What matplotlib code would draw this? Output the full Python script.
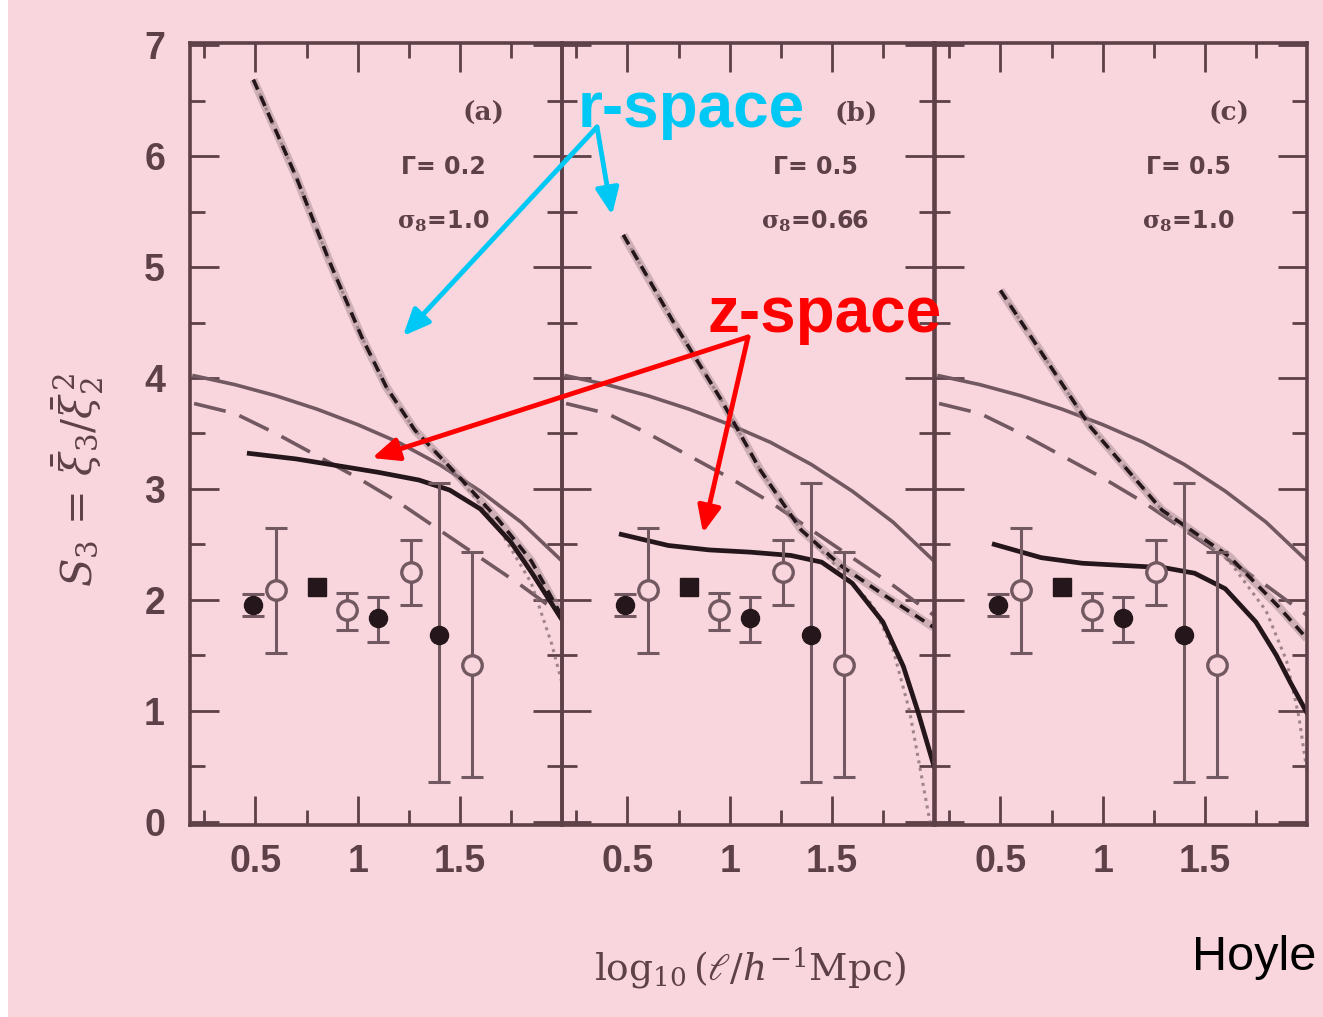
# S3 skewness vs scale -- three panels (a), (b), (c) with r-space / z-space notes
import numpy as np
import matplotlib.pyplot as plt
from matplotlib import font_manager
from matplotlib.patches import Rectangle

names = {f.name for f in font_manager.fontManager.ttflist}
narrow = 'Liberation Sans Narrow' if 'Liberation Sans Narrow' in names else 'Liberation Sans'
plt.rcParams['mathtext.fontset'] = 'dejavuserif'

# --- data ---
panel_tags = ['(a)', '(b)', '(c)']
gamma_txt = ['Γ= 0.2', 'Γ= 0.5', 'Γ= 0.5']
sigma_txt = ['1.0', '0.66', '1.0']

# upper solid and long-dashed curves (same in every panel)
curve_x = [0.2, 0.4, 0.6, 0.8, 1.0, 1.2, 1.4, 1.6, 1.8, 2.0]
solid_y = [4.02, 3.94, 3.84, 3.72, 3.58, 3.42, 3.22, 2.98, 2.70, 2.35]
dashed_y = [3.77, 3.68, 3.50, 3.30, 3.10, 2.88, 2.63, 2.38, 2.13, 1.86]

# thick z-space curves
zx = [0.47, 0.7, 0.9, 1.1, 1.3, 1.45, 1.6, 1.75, 1.85, 1.92, 2.0]
z_a = [3.32, 3.27, 3.21, 3.15, 3.08, 2.99, 2.82, 2.52, 2.25, 2.05, 1.82]
z_b = [2.59, 2.49, 2.45, 2.43, 2.40, 2.34, 2.15, 1.80, 1.40, 1.00, 0.50]
z_c = [2.50, 2.38, 2.33, 2.31, 2.29, 2.24, 2.10, 1.80, 1.50, 1.25, 0.98]

# steep r-space dashed curves
ra_x = [0.49, 0.70, 0.86, 1.02, 1.14, 1.28, 1.48, 1.69, 1.85, 2.0]
ra_y = [6.69, 5.81, 5.06, 4.37, 3.92, 3.53, 3.14, 2.72, 2.35, 1.85]
rb_x = [0.48, 0.72, 0.96, 1.15, 1.35, 1.55, 1.75, 2.0]
rb_y = [5.29, 4.52, 3.80, 3.17, 2.63, 2.30, 2.05, 1.75]
rc_x = [0.5, 0.94, 1.29, 1.62, 1.86, 2.0]
rc_y = [4.79, 3.56, 2.81, 2.39, 1.94, 1.65]

# dotted curves (follow the steep ones, then drop)
da_x = [0.49, 0.70, 0.86, 1.02, 1.14, 1.28, 1.48, 1.69, 1.85, 1.95, 2.0]
da_y = [6.69, 5.81, 5.06, 4.37, 3.92, 3.53, 3.14, 2.65, 2.15, 1.60, 1.25]
db_x = [0.48, 0.72, 0.96, 1.15, 1.35, 1.55, 1.7, 1.8, 1.88, 1.94, 1.98]
db_y = [5.29, 4.52, 3.80, 3.17, 2.63, 2.25, 1.95, 1.55, 1.00, 0.40, 0.0]
dc_x = [0.5, 0.94, 1.29, 1.62, 1.8, 1.9, 1.96, 2.0]
dc_y = [4.79, 3.56, 2.81, 2.35, 1.90, 1.45, 0.95, 0.45]

# measured points
pt_x = [0.49, 0.60, 0.80, 0.95, 1.10, 1.26, 1.40, 1.56]
pt_y = [1.95, 2.09, 2.12, 1.91, 1.84, 2.25, 1.68, 1.41]
pt_lo = [1.85, 1.52, 2.12, 1.73, 1.62, 1.95, 0.36, 0.40]
pt_hi = [2.05, 2.65, 2.12, 2.06, 2.03, 2.54, 3.05, 2.43]
pt_kind = ['filled', 'open', 'square', 'open', 'filled', 'open', 'filled', 'open']

z_list = [z_a, z_b, z_c]
r_list = [(ra_x, ra_y), (rb_x, rb_y), (rc_x, rc_y)]
d_list = [(da_x, da_y), (db_x, db_y), (dc_x, dc_y)]

bg = '#f9d6dd'
ink = '#5e4048'
grey = '#725860'
dark = '#24161a'

W, H = 1323, 1017
fig = plt.figure(figsize=(W / 100, H / 100), dpi=100, facecolor=bg)
fig.add_artist(Rectangle((0, 0), 8 / W, 1, transform=fig.transFigure,
                         facecolor='white', edgecolor='none'))

lefts = [190, 562, 935]
for i, lp in enumerate(lefts):
    ax = fig.add_axes([lp / W, 1 - 825 / H, 372 / W, 782 / H])
    ax.set_facecolor(bg)
    ax.patch.set_alpha(0)
    ax.set_xlim(0.18, 2.0)
    ax.set_ylim(-0.03, 7.02)

    ax.plot(curve_x, solid_y, color=grey, lw=2.6)
    ax.plot(curve_x, dashed_y, color=grey, lw=2.6, dashes=(9, 4))
    dx, dy = d_list[i]
    ax.plot(dx, dy, color='#8a7078', lw=2.2, ls=(0, (1, 1.5)), alpha=0.8)
    rx, ry = r_list[i]
    ax.plot(rx, ry, color='#9a8088', lw=6, alpha=0.45, solid_capstyle='butt')
    ax.plot(rx, ry, color=dark, lw=2.6, dashes=(3, 2))
    ax.plot(zx, z_list[i], color=dark, lw=3.4)

    for x, y, lo, hi, k in zip(pt_x, pt_y, pt_lo, pt_hi, pt_kind):
        if hi > lo:
            ax.errorbar([x], [y], yerr=[[y - lo], [hi - y]], fmt='none',
                        ecolor=grey, elinewidth=2.2, capsize=8, capthick=2.2)
        if k == 'filled':
            ax.plot(x, y, 'o', ms=13, color=dark)
        elif k == 'square':
            ax.plot(x, y, 's', ms=13, color=dark)
        else:
            ax.plot(x, y, 'o', ms=14, mfc=bg, mec=grey, mew=2.4)

    ax.text(0.79, 0.91, panel_tags[i], transform=ax.transAxes, ha='center',
            va='center', fontsize=19, fontweight='bold', color=ink, family='DejaVu Serif')
    ax.text(0.68, 0.842, gamma_txt[i], transform=ax.transAxes, ha='center',
            va='center', fontsize=17, fontweight='bold', color=ink, family='DejaVu Sans')
    ax.text(0.68, 0.772, r'$\mathbf{\sigma_8}$=' + sigma_txt[i], transform=ax.transAxes,
            ha='center', va='center', fontsize=17, fontweight='bold', color=ink,
            family='DejaVu Sans')

    ax.set_xticks([0.5, 1.0, 1.5])
    ax.set_xticklabels(['0.5', '1', '1.5'])
    ax.set_xticks([0.25, 0.75, 1.25, 1.75], minor=True)
    ax.set_yticks(range(0, 8))
    ax.set_yticks(np.arange(0.5, 7, 1.0), minor=True)
    ax.tick_params(which='both', direction='in', top=True, right=True,
                   color=ink, width=2.0, labelcolor=ink, labelsize=27)
    ax.tick_params(which='major', length=21)
    ax.tick_params(which='minor', length=11)
    ax.tick_params(axis='x', pad=14)
    ax.tick_params(axis='y', pad=18)
    for lab in ax.get_xticklabels() + ax.get_yticklabels():
        lab.set_family(narrow)
        lab.set_fontweight('bold')
    if i > 0:
        ax.set_yticklabels([])
    for s in ax.spines.values():
        s.set_color(ink)
        s.set_linewidth(2.6)

# axis labels
fig.text(78 / W, 1 - 480 / H, r'$S_3\,=\,\bar{\xi}_3/\bar{\xi}_2^{\,2}$', rotation=90,
         ha='center', va='center', fontsize=30, color=ink)
fig.text(750 / W, 1 - 968 / H, r'$\log_{10}(\ell/h^{-1}\mathrm{Mpc})$',
         ha='center', va='center', fontsize=27, color=ink)

fig.text(1192 / W, 1 - 958 / H, 'Hoyle', ha='left', va='center', fontsize=35,
         color='black', family=narrow)

# r-space / z-space notes
fig.text(578 / W, 1 - 127 / H, 'r-space', ha='left', va='baseline', fontsize=46,
         fontweight='bold', color='#00c8f5', family='Liberation Sans')
fig.text(708 / W, 1 - 332 / H, 'z-space', ha='left', va='baseline', fontsize=46,
         fontweight='bold', color='#ff0000', family='Liberation Sans')


def arrow(start, tip, col):
    fig.add_artist(plt.Annotation('', xy=(tip[0], H - tip[1]), xycoords='figure pixels',
                                  xytext=(start[0], H - start[1]), textcoords='figure pixels',
                                  arrowprops=dict(arrowstyle='-|>,head_length=1.6,head_width=0.7',
                                                  color=col, lw=3.5, shrinkA=0, shrinkB=0)))


arrow((597, 127), (403, 336), '#00c8f5')
arrow((597, 127), (612, 215), '#00c8f5')
arrow((748, 337), (372, 458), '#ff0000')
arrow((748, 337), (703, 533), '#ff0000')

fig.savefig('out.png', dpi=100, facecolor=bg)
